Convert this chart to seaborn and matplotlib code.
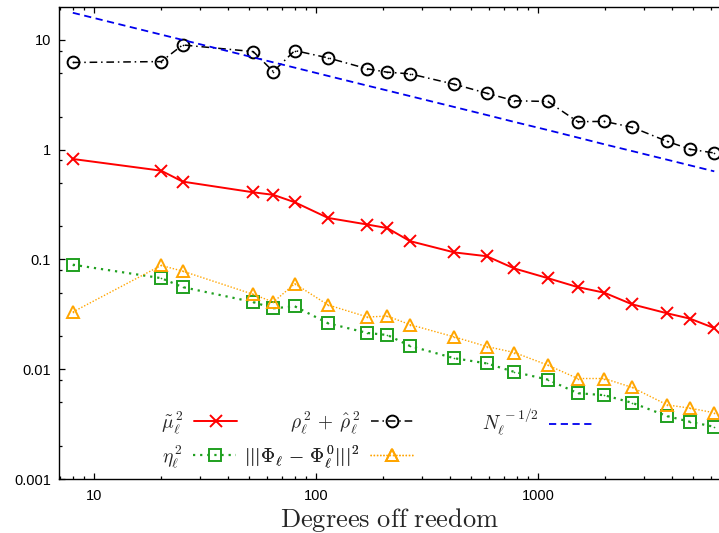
import numpy as np
import pandas as pd
import seaborn as sns
import matplotlib
matplotlib.use("Agg")
import matplotlib.pyplot as plt
from matplotlib.ticker import LogLocator, FixedLocator, FixedFormatter, NullFormatter

# ---------------- data ----------------
dof = [8, 20, 25, 52, 64, 80, 113, 170, 209, 264, 418, 586, 780, 1103,
       1505, 1983, 2650, 3810, 4822, 6205]
mu2 = [0.823, 0.644, 0.512, 0.409, 0.388, 0.332, 0.239, 0.208, 0.193, 0.147,
       0.116, 0.107, 0.0828, 0.0676, 0.0560, 0.0498, 0.0390, 0.0323, 0.0289, 0.0237]
rho2 = [6.23, 6.35, 9.0, 7.83, 5.15, 8.0, 6.86, 5.45, 5.08, 4.91,
        3.95, 3.27, 2.79, 2.75, 1.80, 1.81, 1.60, 1.19, 1.01, 0.933]
eta2 = [0.0896, 0.0676, 0.0560, 0.0409, 0.0359, 0.0374, 0.0262, 0.0214, 0.0205, 0.0163,
        0.0126, 0.0113, 0.00945, 0.00805, 0.00605, 0.00580, 0.00494, 0.00374, 0.00332, 0.00299]
phi_err = [0.0332, 0.0882, 0.0783, 0.0481, 0.0409, 0.0601, 0.0385, 0.0299, 0.0305, 0.0255,
           0.0197, 0.0161, 0.0142, 0.0109, 0.00823, 0.00823, 0.00682, 0.00473, 0.00442, 0.00401]
ref_line = [17.68, 11.18, 10.0, 6.93, 6.25, 5.59, 4.70, 3.83, 3.46, 3.08,
            2.45, 2.07, 1.79, 1.51, 1.29, 1.12, 0.971, 0.810, 0.720, 0.635]

labels = {
    "mu": r"$\tilde{\mu}_\ell^{\,2}$",
    "rho": r"$\rho_\ell^{\,2}\,+\,\hat{\rho}_\ell^{\,2}$",
    "ref": r"$N_\ell^{\,-1/2}$",
    "eta": r"$\eta_\ell^{\,2}$",
    "phi": r"$|||\mathit{\Phi}_\ell\,-\,\mathit{\Phi}_\ell^{\,0}|||^{2}$",
}

xticks = [10, 100, 1000]
xticklabels = ["10", "100", "1000"]
yticks = [0.001, 0.01, 0.1, 1, 10]
yticklabels = ["0.001", "0.01", "0.1", "1", "10"]

df = pd.DataFrame({"dof": dof, "mu2": mu2, "rho2": rho2, "eta2": eta2,
                   "phi": phi_err, "ref": ref_line})

# ---------------- style ----------------
sns.set_style("ticks")
plt.rcParams["font.family"] = ["Liberation Sans", "DejaVu Sans"]
plt.rcParams["mathtext.fontset"] = "cm"

W, H = 719, 533
fig = plt.figure(figsize=(W / 100, H / 100), dpi=100)
ax = fig.add_axes([59.3 / W, 1 - 479 / H, (720 - 59.3) / W, (479 - 7) / H])

RED = "#ff0000"
BLACK = "#000000"
GREEN = "#1fa01f"
ORANGE = "#ffa500"
BLUE = "#0000ee"

handles = {}

def draw(col, key, color, marker, ls, lw, ms, dot=True):
    sns.lineplot(data=df, x="dof", y=col, ax=ax, color=color, marker=marker,
                 linestyle=ls, linewidth=lw, markersize=ms,
                 markerfacecolor="none", markeredgecolor=color,
                 markeredgewidth=1.4, estimator=None, sort=False, legend=False)
    handles[key] = ax.lines[-1]
    if dot:
        sns.lineplot(data=df, x="dof", y=col, ax=ax, color=color, marker="o",
                     linestyle="", markersize=1.2, markeredgewidth=0,
                     markerfacecolor=color, estimator=None, sort=False, legend=False)

draw("mu2", "mu", RED, "x", "-", 1.4, 8.5, dot=False)
draw("rho2", "rho", BLACK, "o", (0, (5, 2.5, 1, 2.5)), 1.1, 8.5)
draw("eta2", "eta", GREEN, "s", (0, (1, 2.2)), 1.6, 8)
draw("phi", "phi", ORANGE, "^", (0, (1, 1.3)), 1.0, 8)
sns.lineplot(data=df, x="dof", y="ref", ax=ax, color=BLUE,
             linestyle=(0, (4, 2.5)), linewidth=1.3, estimator=None,
             sort=False, legend=False)
handles["ref"] = ax.lines[-1]

ax.set_xscale("log")
ax.set_yscale("log")
ax.set_xlim(6.955, 6584)
ax.set_ylim(0.001, 19.95)

ax.xaxis.set_major_locator(FixedLocator(xticks))
ax.xaxis.set_major_formatter(FixedFormatter(xticklabels))
ax.xaxis.set_minor_locator(LogLocator(base=10, subs=np.arange(2, 10)))
ax.xaxis.set_minor_formatter(NullFormatter())
ax.yaxis.set_major_locator(FixedLocator(yticks))
ax.yaxis.set_major_formatter(FixedFormatter(yticklabels))
ax.yaxis.set_minor_locator(LogLocator(base=10, subs=[2, 5, 8]))
ax.yaxis.set_minor_formatter(NullFormatter())

ax.tick_params(axis="both", which="both", direction="in", colors="black",
               labelsize=10.5, width=0.9)
ax.tick_params(axis="x", which="both", top=True, bottom=True)
ax.tick_params(axis="y", which="both", left=True, right=False)
ax.tick_params(which="major", length=4.5, pad=7)
ax.tick_params(which="minor", length=2.2)
ax.tick_params(axis="y", which="major", pad=6)

for side in ["left", "top", "bottom"]:
    ax.spines[side].set_linewidth(1.0)
    ax.spines[side].set_color("black")
ax.spines["right"].set_visible(False)

ax.set_xlabel(r"$\mathrm{Degrees\ off\ reedom}$", fontsize=19, labelpad=2)
ax.set_ylabel("")

# ---------------- legend (gnuplot-like key, 3 fixed-width columns) ----------------
entries = [("mu", 237, 422.5), ("rho", 413.5, 422.5), ("ref", 592, 422.5),
           ("eta", 236, 456.5), ("phi", 413, 456.5)]
for key, xr, yc in entries:
    leg = ax.legend([handles[key]], [labels[key]], loc="center right",
                    bbox_to_anchor=(xr / W, 1 - yc / H),
                    bbox_transform=fig.transFigure, frameon=False,
                    markerfirst=False, fontsize=14, handlelength=2.2,
                    handletextpad=0.55, borderpad=0, borderaxespad=0)
    ax.add_artist(leg)

fig.savefig("out.png", dpi=100)
